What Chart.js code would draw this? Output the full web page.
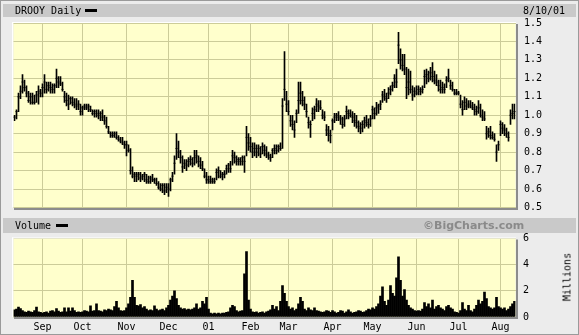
<!DOCTYPE html>
<html>
<head>
<meta charset="utf-8">
<script src="https://cdn.jsdelivr.net/npm/chart.js@4"></script>
<style>
  body { margin:0; width:579px; height:335px; background:#ececec; position:relative; overflow:hidden;
         font-family:"DejaVu Sans Mono", monospace; font-size:10px; color:#000; }
  .abs { position:absolute; }
  .band { position:absolute; left:3px; width:573px; background:#c9c9c9; }
  .frame { position:absolute; left:0; top:0; width:577px; height:333px; border:1px solid #9a9a9a; }
  .dash { position:absolute; width:12px; height:3px; background:#000; }
  canvas { position:absolute; left:0; }
</style>
</head>
<body>
<div class="frame"></div>
<div class="band" style="top:4px;height:13px"></div>
<div class="band" style="top:218px;height:15px"></div>

<canvas id="priceChart" width="579" height="224" style="top:0"></canvas>
<canvas id="volChart" width="579" height="111" style="top:224px"></canvas>

<div class="abs" style="left:15px;top:4px;line-height:13px">DROOY Daily</div>
<div class="dash" style="left:85px;top:9px"></div>
<div class="abs" style="left:523px;top:4px;line-height:13px">8/10/01</div>
<div class="abs" style="left:15px;top:218px;line-height:15px">Volume</div>
<div class="dash" style="left:56px;top:224px"></div>
<div class="abs" style="left:423px;top:218px;line-height:15px;font-family:'DejaVu Sans';font-weight:bold;font-size:11px;color:#8a8a8a">©BigCharts.com</div>
<div class="abs" style="left:567px;top:277px;transform:translate(-50%,-50%) rotate(-90deg);white-space:nowrap">Millions</div>

<script>
// daily bars, 14 Aug 2000 .. 10 Aug 2001 (trading days)
var high = [
  1.00,1.03,1.12,1.16,1.22,1.19,1.16,1.13,1.12,1.12,
  1.11,1.13,1.16,1.14,1.17,1.22,1.18,1.18,1.18,1.17,
  1.17,1.25,1.21,1.21,1.18,1.13,1.12,1.11,1.10,1.10,
  1.09,1.09,1.08,1.06,1.05,1.06,1.06,1.06,1.05,1.03,
  1.03,1.03,1.03,1.02,1.03,1.00,0.99,0.94,0.91,0.91,
  0.91,0.91,0.89,0.88,0.88,0.86,0.86,0.84,0.82,0.72,
  0.69,0.69,0.69,0.69,0.68,0.69,0.68,0.67,0.67,0.68,
  0.66,0.66,0.64,0.63,0.63,0.63,0.63,0.63,0.66,0.69,
  0.78,0.90,0.86,0.81,0.78,0.76,0.76,0.77,0.78,0.77,
  0.81,0.81,0.78,0.77,0.75,0.71,0.69,0.67,0.67,0.66,
  0.66,0.71,0.72,0.70,0.69,0.70,0.73,0.74,0.75,0.81,
  0.80,0.78,0.77,0.77,0.78,0.78,0.94,0.90,0.88,0.85,
  0.85,0.84,0.84,0.83,0.85,0.84,0.83,0.80,0.79,0.82,
  0.84,0.84,0.84,0.85,1.09,1.345,1.13,1.08,1.00,1.00,
  0.97,1.03,1.18,1.18,1.13,1.10,1.06,0.99,0.97,1.04,
  1.05,1.09,1.08,1.08,1.03,1.02,0.95,0.94,0.92,0.98,
  1.01,1.01,1.02,1.00,0.99,1.00,1.05,1.03,1.03,1.02,
  1.01,1.00,0.97,0.96,0.97,0.99,1.00,0.98,1.00,1.05,
  1.04,1.07,1.06,1.08,1.13,1.14,1.12,1.15,1.16,1.18,
  1.22,1.25,1.45,1.36,1.33,1.33,1.26,1.25,1.24,1.16,
  1.15,1.16,1.16,1.15,1.16,1.245,1.25,1.24,1.26,1.285,
  1.24,1.22,1.19,1.19,1.18,1.17,1.21,1.25,1.19,1.18,
  1.14,1.14,1.13,1.11,1.08,1.10,1.09,1.08,1.08,1.07,
  1.06,1.05,1.08,1.06,1.03,1.02,0.94,0.93,0.94,0.91,
  0.90,0.84,0.86,0.97,0.96,0.95,0.93,0.91,1.03,1.06,1.06
];
var low = [
  0.97,0.98,1.02,1.09,1.12,1.13,1.10,1.07,1.06,1.06,
  1.06,1.07,1.06,1.10,1.10,1.12,1.12,1.13,1.12,1.12,
  1.12,1.15,1.15,1.16,1.13,1.07,1.05,1.03,1.06,1.05,
  1.04,1.03,1.03,1.00,1.00,1.03,1.03,1.02,1.02,1.00,
  0.99,0.99,0.98,0.97,0.97,0.95,0.93,0.90,0.88,0.88,
  0.88,0.87,0.86,0.85,0.84,0.82,0.78,0.80,0.68,0.66,
  0.64,0.64,0.65,0.64,0.65,0.64,0.63,0.63,0.63,0.64,
  0.63,0.62,0.60,0.59,0.58,0.57,0.58,0.56,0.59,0.64,
  0.68,0.76,0.77,0.74,0.69,0.71,0.70,0.72,0.73,0.72,
  0.73,0.74,0.72,0.71,0.70,0.66,0.63,0.63,0.63,0.63,
  0.63,0.65,0.66,0.66,0.65,0.66,0.68,0.69,0.69,0.73,
  0.74,0.73,0.73,0.73,0.73,0.69,0.78,0.81,0.80,0.77,
  0.78,0.77,0.78,0.77,0.79,0.78,0.77,0.76,0.75,0.77,
  0.79,0.79,0.80,0.81,0.82,1.08,1.02,1.00,0.94,0.92,
  0.88,0.96,1.01,1.06,1.05,1.03,0.99,0.93,0.88,0.97,
  0.98,1.02,1.02,1.03,0.98,0.97,0.89,0.86,0.85,0.92,
  0.96,0.97,0.97,0.95,0.93,0.94,0.98,0.98,0.99,0.96,
  0.94,0.93,0.91,0.90,0.91,0.93,0.94,0.93,0.94,0.98,
  0.98,1.00,1.01,1.03,1.07,1.08,1.07,1.09,1.11,1.13,
  1.15,1.15,1.28,1.25,1.24,1.22,1.09,1.11,1.12,1.08,
  1.10,1.11,1.11,1.11,1.12,1.15,1.17,1.18,1.19,1.18,
  1.17,1.16,1.13,1.12,1.12,1.12,1.15,1.18,1.14,1.13,
  1.11,1.11,1.11,1.04,1.00,1.03,1.03,1.04,1.04,1.03,
  1.00,1.00,1.01,0.99,0.97,0.97,0.87,0.88,0.87,0.87,
  0.86,0.75,0.81,0.89,0.90,0.89,0.88,0.86,0.95,0.98,0.98
];
var close = [
  0.99,1.02,1.10,1.13,1.18,1.15,1.12,1.08,1.10,1.07,
  1.07,1.11,1.13,1.12,1.15,1.18,1.14,1.16,1.15,1.14,
  1.16,1.20,1.18,1.17,1.14,1.10,1.08,1.06,1.09,1.07,
  1.06,1.05,1.06,1.02,1.04,1.05,1.04,1.05,1.03,1.01,
  1.02,1.01,1.00,1.01,0.99,0.97,0.94,0.91,0.90,0.89,
  0.90,0.88,0.87,0.86,0.85,0.84,0.84,0.81,0.70,0.67,
  0.68,0.67,0.68,0.66,0.67,0.68,0.65,0.64,0.66,0.65,
  0.65,0.63,0.61,0.60,0.62,0.59,0.61,0.60,0.65,0.67,
  0.74,0.82,0.80,0.77,0.72,0.74,0.73,0.75,0.76,0.74,
  0.77,0.78,0.75,0.73,0.71,0.67,0.65,0.65,0.64,0.65,
  0.64,0.69,0.70,0.67,0.68,0.68,0.71,0.73,0.71,0.78,
  0.77,0.75,0.76,0.75,0.77,0.75,0.88,0.85,0.83,0.80,
  0.82,0.80,0.82,0.79,0.83,0.81,0.79,0.78,0.77,0.81,
  0.82,0.81,0.83,0.82,1.05,1.14,1.06,1.02,0.97,0.95,
  0.92,1.01,1.08,1.12,1.08,1.06,1.02,0.96,0.95,1.01,
  1.03,1.06,1.05,1.04,1.00,0.99,0.92,0.90,0.89,0.97,
  0.99,1.00,0.99,0.98,0.95,0.98,1.02,1.01,1.00,0.99,
  0.97,0.96,0.94,0.93,0.95,0.97,0.96,0.95,0.98,1.03,
  1.01,1.04,1.05,1.06,1.11,1.10,1.09,1.12,1.14,1.16,
  1.20,1.18,1.38,1.30,1.27,1.25,1.15,1.18,1.14,1.11,
  1.13,1.12,1.14,1.13,1.14,1.21,1.22,1.20,1.23,1.21,
  1.19,1.18,1.16,1.14,1.15,1.14,1.19,1.20,1.16,1.14,
  1.12,1.12,1.12,1.06,1.03,1.07,1.05,1.06,1.05,1.04,
  1.03,1.02,1.04,1.00,0.99,0.98,0.90,0.91,0.89,0.88,
  0.87,0.80,0.84,0.95,0.93,0.92,0.90,0.88,1.00,1.01,1.02
];
// volume, millions of shares
var volume = [
  0.55,0.6,0.75,0.65,0.5,0.4,0.35,0.45,0.4,0.35,
  0.5,0.75,0.4,0.35,0.3,0.35,0.4,0.3,0.45,0.5,
  0.4,0.65,0.45,0.35,0.4,0.7,0.4,0.7,0.45,0.7,
  0.5,0.35,0.4,0.35,0.4,0.5,0.45,0.4,0.85,0.45,
  0.5,1.0,0.5,0.45,0.4,0.55,0.5,0.6,0.55,0.5,
  0.8,1.2,0.7,0.5,0.45,0.5,0.7,1.0,1.5,2.8,
  1.5,0.9,0.85,0.95,0.7,0.8,0.6,0.5,0.55,0.5,
  0.85,0.6,0.5,0.55,0.6,0.5,0.7,0.9,1.3,1.6,
  2.0,1.4,0.9,0.7,0.6,0.65,0.55,0.6,0.55,0.6,
  0.7,1.0,0.6,0.7,1.2,1.0,1.5,0.6,0.3,0.25,
  0.3,0.25,0.3,0.25,0.3,0.3,0.35,0.4,0.7,0.9,
  0.8,0.5,0.4,0.45,0.5,3.3,5.0,1.3,0.6,0.4,
  0.35,0.4,0.3,0.35,0.4,0.3,0.4,0.45,0.55,0.9,
  0.6,0.8,0.5,1.2,2.4,1.8,1.2,0.8,0.6,0.7,
  0.5,0.6,1.0,1.5,1.2,0.6,0.5,0.7,0.55,0.5,
  0.7,0.5,0.45,0.4,0.35,0.4,0.5,0.45,0.35,0.5,
  0.4,0.3,0.35,0.5,0.45,0.3,0.4,0.55,0.4,0.3,
  0.35,0.4,0.5,0.45,0.35,0.4,0.5,0.6,0.55,0.7,
  0.6,0.8,1.0,1.6,2.3,1.2,0.9,1.3,2.4,1.8,
  1.6,3.0,4.6,2.8,1.6,2.1,1.3,0.9,0.7,0.6,
  0.5,0.45,0.5,0.45,0.6,1.1,0.8,1.0,0.7,1.3,
  0.6,0.8,0.9,0.7,0.6,0.5,0.8,0.9,0.7,0.6,
  0.4,0.35,0.3,0.5,1.1,0.6,0.5,0.9,0.5,0.4,
  0.6,0.9,1.3,1.0,1.2,1.9,1.4,0.8,0.7,0.6,
  0.7,1.5,0.8,0.7,0.6,0.7,0.5,0.6,0.8,1.0,1.2
];
// first trading day of each month (bar index) and its label
var monthStart = [14, 34, 56, 77, 97, 118, 137, 159, 179, 201, 222, 243];
var monthLabels = ['Sep','Oct','Nov','Dec','01','Feb','Mar','Apr','May','Jun','Jul','Aug'];

if (low.length !== high.length || close.length !== high.length || volume.length !== high.length)
  throw new Error('length mismatch ' + high.length + ' ' + low.length + ' ' + close.length + ' ' + volume.length);

var days = high.map(function (h, i) { return i; });
var gridCol = '#cccc99';
var monoFont = { family: 'DejaVu Sans Mono', size: 10 };

function monthGrid(ctx) {
  return monthStart.indexOf(ctx.index) >= 0 ? gridCol : 'rgba(0,0,0,0)';
}

// yellow plot face + dark shadow on right/bottom
var plotFace = {
  id: 'plotFace',
  beforeDraw: function (chart) {
    var a = chart.chartArea, c = chart.ctx;
    c.save();
    c.fillStyle = '#ffffcc';
    c.fillRect(a.left, a.top, a.right - a.left, a.bottom - a.top);
    c.restore();
  },
  afterDraw: function (chart) {
    var a = chart.chartArea, c = chart.ctx;
    var l = Math.floor(a.left), r = Math.round(a.right);
    c.save();
    c.fillStyle = '#ffffff';
    c.fillRect(l - 1, a.top - 1, r - l + 1, 1);
    c.fillRect(l - 1, a.top - 1, 1, a.bottom - a.top + 1);
    c.fillStyle = '#8c8c8c';
    c.fillRect(r, a.top + 1, 2, a.bottom - a.top + 1);
    c.fillRect(l + 1, Math.round(a.bottom), r - l + 1, 2);
    c.restore();
  }
};

var priceChart = new Chart(document.getElementById('priceChart'), {
  type: 'bar',
  data: {
    labels: days,
    datasets: [{
      type: 'bar',
      data: high.map(function (h, i) { return [low[i], h]; }),
      backgroundColor: '#000',
      barThickness: 1,
      order: 2
    }, {
      type: 'line',
      data: close,
      showLine: false,
      pointStyle: 'line',
      pointRadius: 1,
      borderColor: '#000',
      borderWidth: 1,
      order: 1
    }]
  },
  options: {
    responsive: false,
    animation: false,
    events: [],
    layout: { padding: { left: 13.5, top: 23, right: 0, bottom: 16.5 } },
    plugins: { legend: { display: false }, tooltip: { enabled: false } },
    scales: {
      x: {
        offset: true,
        grid: { offset: false, color: monthGrid, drawTicks: false },
        border: { display: false },
        ticks: { display: false },
        afterFit: function (s) { s.height = 0; }
      },
      y: {
        position: 'right',
        min: 0.5, max: 1.5,
        grid: { color: gridCol, drawTicks: false },
        border: { display: false },
        ticks: {
          stepSize: 0.1, padding: 8.5, color: '#000', font: monoFont,
          callback: function (v) { return v.toFixed(1); }
        },
        afterFit: function (s) { s.width = 63.5; }
      }
    }
  },
  plugins: [plotFace]
});

var volChart = new Chart(document.getElementById('volChart'), {
  type: 'bar',
  data: {
    labels: days,
    datasets: [{
      data: volume,
      backgroundColor: '#000',
      barPercentage: 1,
      categoryPercentage: 1
    }]
  },
  options: {
    responsive: false,
    animation: false,
    events: [],
    layout: { padding: { left: 13.5, top: 14.5, right: 0, bottom: 0 } },
    plugins: { legend: { display: false }, tooltip: { enabled: false } },
    scales: {
      x: {
        offset: true,
        grid: { offset: false, color: monthGrid, drawTicks: false },
        border: { display: false },
        ticks: {
          autoSkip: false, maxRotation: 0, minRotation: 0, padding: 4,
          color: '#000', font: monoFont,
          callback: function (v, i) {
            var k = monthStart.indexOf(i);
            return k >= 0 ? monthLabels[k] : '';
          }
        },
        afterFit: function (s) { s.height = 18; }
      },
      y: {
        position: 'right',
        min: 0, max: 6,
        grid: { color: gridCol, drawTicks: false },
        border: { display: false },
        ticks: { stepSize: 2, padding: 7.5, color: '#000', font: monoFont },
        afterFit: function (s) { s.width = 63.5; }
      }
    }
  },
  plugins: [plotFace]
});
</script>
</body>
</html>
